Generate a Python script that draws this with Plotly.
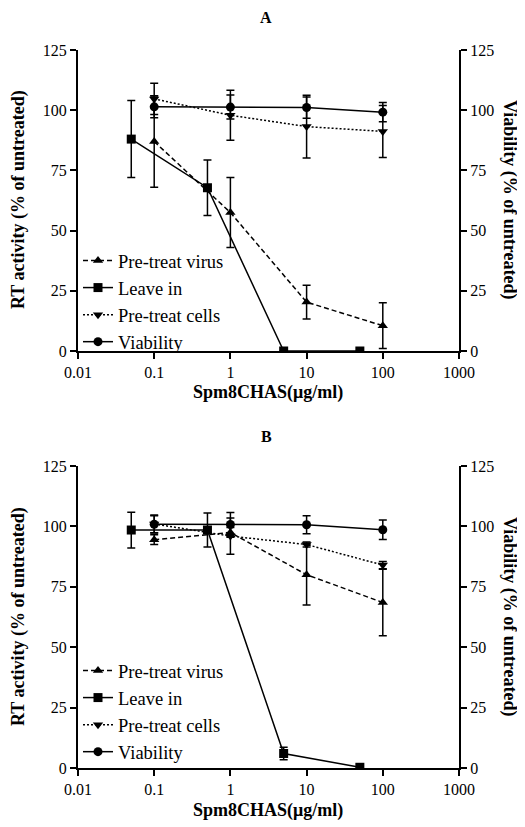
import plotly.graph_objects as go

# ---------------- data ----------------
series_names = ["Pre-treat virus", "Leave in", "Pre-treat cells", "Viability"]
x_ticks = [0.01, 0.1, 1, 10, 100, 1000]
x_tick_labels = ["0.01", "0.1", "1", "10", "100", "1000"]
y_ticks = [0, 25, 50, 75, 100, 125]

conc_main = [0.1, 1, 10, 100]
conc_leave = [0.05, 0.5, 5, 50]

# Panel A
A_virus = [87, 57.5, 20.3, 10.5]
A_virus_err = [19, 14.5, 7, 9.5]
A_leave = [88, 67.8, 0, 0]
A_leave_err = [16, 11.5, 0, 0]
A_cells = [104.7, 97.9, 93.2, 91.2]
A_cells_err = [6.5, 10.4, 13, 10.8]
A_viab = [101.4, 101.3, 101.1, 99.2]
A_viab_err = [4.5, 5, 4.4, 4]

# Panel B
B_virus = [94.5, 97.5, 80, 68.5]
B_virus_err = [2, 2, 12.5, 13.8]
B_leave = [98.5, 98.5, 6, 0.3]
B_leave_err = [7.4, 7, 2.6, 0]
B_cells = [101, 96, 92.5, 84]
B_cells_err = [3.7, 7.5, 1, 1.5]
B_viab = [100.9, 100.8, 100.7, 98.6]
B_viab_err = [3.5, 5, 3.7, 4]

# ---------------- styling ----------------
FONT = "Liberation Serif, Times New Roman, serif"
PAGE_OFF = 8                      # default body margin of the html page
W, H = 525 - PAGE_OFF, 827 - PAGE_OFF
L_PX, R_PX = 78, 459              # plot area edges in page pixels


def px_x(px):
    return (px - L_PX) / (R_PX - L_PX)


def px_y(py):
    return 1 - (py - PAGE_OFF) / H


styles = {
    "Pre-treat virus": dict(symbol="triangle-up", dash="5px,3px"),
    "Leave in": dict(symbol="square", dash="solid"),
    "Pre-treat cells": dict(symbol="triangle-down", dash="2px,2px"),
    "Viability": dict(symbol="circle", dash="solid"),
}

fig = go.Figure()


def add_series(name, x, y, err, xa, ya, legend):
    st = styles[name]
    fig.add_trace(go.Scatter(
        x=x, y=y, name=name, mode="lines+markers",
        xaxis=xa, yaxis=ya, legend=legend,
        line=dict(color="black", width=1.5, dash=st["dash"]),
        marker=dict(symbol=st["symbol"], size=9, color="black"),
        error_y=dict(type="data", array=err, visible=True,
                     color="black", thickness=1.5, width=4),
    ))


# Panel A
add_series("Pre-treat virus", conc_main, A_virus, A_virus_err, "x", "y", "legend")
add_series("Leave in", conc_leave, A_leave, A_leave_err, "x", "y", "legend")
add_series("Pre-treat cells", conc_main, A_cells, A_cells_err, "x", "y", "legend")
add_series("Viability", conc_main, A_viab, A_viab_err, "x", "y2", "legend")
# Panel B
add_series("Pre-treat virus", conc_main, B_virus, B_virus_err, "x2", "y3", "legend2")
add_series("Leave in", conc_leave, B_leave, B_leave_err, "x2", "y3", "legend2")
add_series("Pre-treat cells", conc_main, B_cells, B_cells_err, "x2", "y3", "legend2")
add_series("Viability", conc_main, B_viab, B_viab_err, "x2", "y4", "legend2")

tickfont = dict(family=FONT, size=16, color="black")

xax = dict(type="log", range=[-2, 3], tickvals=x_ticks, ticktext=x_tick_labels,
           showgrid=False, zeroline=False, showline=True, linecolor="black",
           linewidth=2, ticks="outside", ticklen=6, tickwidth=2,
           tickcolor="black", tickfont=tickfont, domain=[0, 1])
yax = dict(range=[0, 125], tickvals=y_ticks, showgrid=False, zeroline=False,
           showline=True, linecolor="black", linewidth=2, ticks="outside",
           ticklen=6, tickwidth=2, tickcolor="black", tickfont=tickfont)

top_dom = [px_y(351), px_y(50)]
bot_dom = [px_y(768), px_y(466)]

legfont = dict(family=FONT, size=18.5, color="black")

fig.update_layout(
    width=W, height=H,
    margin=dict(l=L_PX - PAGE_OFF, r=W - (R_PX - PAGE_OFF), t=0, b=0, autoexpand=False),
    paper_bgcolor="white", plot_bgcolor="white",
    font=dict(family=FONT, color="black"),
    xaxis=dict(**xax, anchor="y"),
    yaxis=dict(**yax, domain=top_dom, anchor="x"),
    yaxis2=dict(**yax, overlaying="y", side="right", anchor="x"),
    xaxis2=dict(**xax, anchor="y3"),
    yaxis3=dict(**yax, domain=bot_dom, anchor="x2"),
    yaxis4=dict(**yax, overlaying="y3", side="right", anchor="x2"),
    legend=dict(x=0.0, y=px_y(242), xanchor="left", yanchor="top",
                bgcolor="rgba(0,0,0,0)", font=legfont),
    legend2=dict(x=0.0, y=px_y(652), xanchor="left", yanchor="top",
                 bgcolor="rgba(0,0,0,0)", font=legfont),
    showlegend=True,
)

bold = dict(family=FONT, size=18, color="black")
ann = []
for title, ty, xt_y, mid in [("A", 18, 392, 200), ("B", 436, 810, 617)]:
    common = dict(xref="paper", yref="paper", showarrow=False,
                  xanchor="center", yanchor="middle")
    ann.append(dict(text="<b>%s</b>" % title, x=px_x(266), y=px_y(ty),
                    font=dict(family=FONT, size=16, color="black"), **common))
    ann.append(dict(text="<b>Spm8CHAS(μg/ml)</b>", x=px_x(268), y=px_y(xt_y),
                    font=bold, **common))
    ann.append(dict(text="<b>RT activity (% of untreated)</b>", x=px_x(18), y=px_y(mid),
                    textangle=-90, font=bold, **common))
    ann.append(dict(text="<b>Viability (% of untreated)</b>", x=px_x(510), y=px_y(mid),
                    textangle=90, font=bold, **common))
fig.update_layout(annotations=ann)

fig.write_html("out.html")
